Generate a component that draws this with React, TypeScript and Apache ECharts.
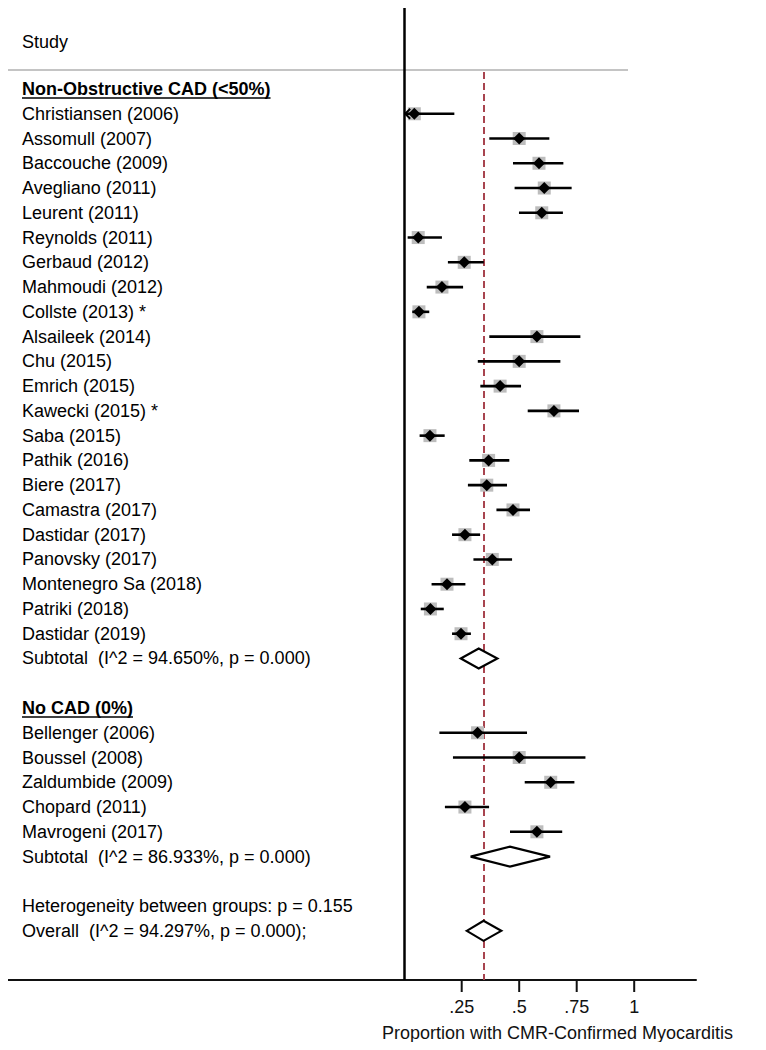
import React, { useEffect, useRef } from "react";
import * as echarts from "echarts";

// ---------- data ----------
const GROUP1_TITLE = "Non-Obstructive CAD (<50%)";
const GROUP1_STUDIES = [
  "Christiansen (2006)", "Assomull (2007)", "Baccouche (2009)", "Avegliano (2011)",
  "Leurent (2011)", "Reynolds (2011)", "Gerbaud (2012)", "Mahmoudi (2012)",
  "Collste (2013) *", "Alsaileek (2014)", "Chu (2015)", "Emrich (2015)",
  "Kawecki (2015) *", "Saba (2015)", "Pathik (2016)", "Biere (2017)",
  "Camastra (2017)", "Dastidar (2017)", "Panovsky (2017)", "Montenegro Sa (2018)",
  "Patriki (2018)", "Dastidar (2019)",
];
const GROUP1_EST = [0.044, 0.5, 0.586, 0.609, 0.598, 0.061, 0.261, 0.164, 0.064, 0.577, 0.5, 0.417, 0.651, 0.112, 0.367, 0.359, 0.473, 0.264, 0.383, 0.186, 0.114, 0.247];
const GROUP1_LO = [-0.02, 0.37, 0.473, 0.48, 0.499, 0.015, 0.19, 0.098, 0.035, 0.37, 0.32, 0.331, 0.537, 0.067, 0.283, 0.277, 0.401, 0.208, 0.301, 0.119, 0.072, 0.208];
const GROUP1_HI = [0.218, 0.631, 0.692, 0.728, 0.69, 0.164, 0.346, 0.256, 0.109, 0.766, 0.679, 0.508, 0.76, 0.176, 0.457, 0.447, 0.547, 0.33, 0.469, 0.266, 0.172, 0.29];
const GROUP1_SUBTOTAL = [0.324, 0.246, 0.405]; // est, lo, hi
const GROUP1_SUBTOTAL_LABEL = "Subtotal  (I^2 = 94.650%, p = 0.000)";

const GROUP2_TITLE = "No CAD (0%)";
const GROUP2_STUDIES = ["Bellenger (2006)", "Boussel (2008)", "Zaldumbide (2009)", "Chopard (2011)", "Mavrogeni (2017)"];
const GROUP2_EST = [0.319, 0.5, 0.637, 0.264, 0.577];
const GROUP2_LO = [0.153, 0.212, 0.524, 0.177, 0.46];
const GROUP2_HI = [0.534, 0.788, 0.74, 0.369, 0.687];
const GROUP2_SUBTOTAL = [0.46, 0.289, 0.634];
const GROUP2_SUBTOTAL_LABEL = "Subtotal  (I^2 = 86.933%, p = 0.000)";

const HETEROGENEITY_LABEL = "Heterogeneity between groups: p = 0.155";
const OVERALL = [0.345, 0.272, 0.422];
const OVERALL_LABEL = "Overall  (I^2 = 94.297%, p = 0.000);";

const COLUMN_TITLE = "Study";
const TICK_VALUES = [0.25, 0.5, 0.75, 1];
const TICK_LABELS = [".25", ".5", ".75", "1"];
const X_TITLE = "Proportion with CMR-Confirmed Myocarditis";

// ---------- layout ----------
const W = 750;
const H = 1034;
const GRID_W = 688;
const GRID_H = 972;
const X_ZERO_PX = 396.2;
const PX_PER_UNIT = 230;
const X_MIN = -X_ZERO_PX / PX_PER_UNIT;
const X_MAX = (GRID_W - X_ZERO_PX) / PX_PER_UNIT;
const Y_MIN = -3.271;
const Y_MAX = 35.985;
const HEADER_ROW = -1.9;
const HEADER_LINE_ROW = -0.767;
const FONT = '"Liberation Sans", Arial, Helvetica, sans-serif';
const FS = 18;

type Row = { k: number; text: string; bold?: boolean };

function buildRows() {
  const labels: Row[] = [];
  const studies: number[][] = [];
  const diamonds: number[][] = [];
  let k = 0;
  labels.push({ k: HEADER_ROW, text: COLUMN_TITLE });
  labels.push({ k, text: GROUP1_TITLE, bold: true });
  k++;
  GROUP1_STUDIES.forEach((s, i) => {
    labels.push({ k, text: s });
    studies.push([GROUP1_EST[i], GROUP1_LO[i], GROUP1_HI[i], k]);
    k++;
  });
  labels.push({ k, text: GROUP1_SUBTOTAL_LABEL });
  diamonds.push([GROUP1_SUBTOTAL[0], GROUP1_SUBTOTAL[1], GROUP1_SUBTOTAL[2], k]);
  k += 2;
  labels.push({ k, text: GROUP2_TITLE, bold: true });
  k++;
  GROUP2_STUDIES.forEach((s, i) => {
    labels.push({ k, text: s });
    studies.push([GROUP2_EST[i], GROUP2_LO[i], GROUP2_HI[i], k]);
    k++;
  });
  labels.push({ k, text: GROUP2_SUBTOTAL_LABEL });
  diamonds.push([GROUP2_SUBTOTAL[0], GROUP2_SUBTOTAL[1], GROUP2_SUBTOTAL[2], k]);
  k += 2;
  labels.push({ k, text: HETEROGENEITY_LABEL });
  k++;
  labels.push({ k, text: OVERALL_LABEL });
  diamonds.push([OVERALL[0], OVERALL[1], OVERALL[2], k]);
  return { labels, studies, diamonds };
}

function measure(text: string, bold: boolean) {
  const c = document.createElement("canvas").getContext("2d");
  if (!c) return text.length * FS * 0.55;
  c.font = `${bold ? "bold " : ""}${FS}px ${FONT}`;
  return c.measureText(text).width;
}

export default function App() {
  const ref = useRef<HTMLDivElement>(null);
  useEffect(() => {
    if (!ref.current) return;
    const chart = echarts.init(ref.current, null, { renderer: "svg" });
    const { labels, studies, diamonds } = buildRows();

    const option: any = {
      animation: false,
      backgroundColor: "#ffffff",
      grid: { left: 0, top: 0, width: GRID_W, height: GRID_H },
      xAxis: {
        type: "value",
        min: X_MIN,
        max: X_MAX,
        axisLine: { show: true, onZero: false, lineStyle: { color: "#111", width: 2 } },
        axisTick: { show: false },
        axisLabel: { show: false },
        splitLine: { show: false },
      },
      yAxis: {
        type: "value",
        min: Y_MIN,
        max: Y_MAX,
        inverse: true,
        show: false,
        splitLine: { show: false },
      },
      graphic: [
        {
          type: "line",
          shape: { x1: 0, y1: 62, x2: 620, y2: 62 },
          style: { stroke: "#c4c4c4", lineWidth: 2 },
          z: 1,
        },
        {
          type: "text",
          x: 549.5,
          y: 1025,
          style: { text: X_TITLE, font: `${FS}px ${FONT}`, fill: "#111", align: "center", verticalAlign: "middle" },
        },
      ],
      series: [
        {
          type: "lines",
          coordinateSystem: "cartesian2d",
          z: 2,
          lineStyle: { color: "#000", width: 2.5, opacity: 1 },
          data: [{ coords: [[0, Y_MIN], [0, Y_MAX]] }],
          silent: true,
        },
        {
          type: "lines",
          coordinateSystem: "cartesian2d",
          z: 2,
          lineStyle: { color: "#a8444f", width: 2, type: [7, 4], opacity: 1 },
          data: [{ coords: [[OVERALL[0], HEADER_LINE_ROW + 0.08], [OVERALL[0], Y_MAX]] }],
          silent: true,
        },
        {
          type: "custom",
          z: 5,
          data: studies,
          encode: { x: [0, 1, 2], y: 3 },
          renderItem: (params: any, api: any) => {
            const est = api.value(0);
            const lo = api.value(1);
            const hi = api.value(2);
            const k = api.value(3);
            const c = api.coord([est, k]);
            const l = api.coord([Math.max(lo, 0), k]);
            const h = api.coord([hi, k]);
            const children: any[] = [
              { type: "rect", shape: { x: c[0] - 6.5, y: c[1] - 6.5, width: 13, height: 13 }, style: { fill: "#bdbdbd" } },
              { type: "line", shape: { x1: l[0], y1: l[1], x2: h[0], y2: h[1] }, style: { stroke: "#000", lineWidth: 2.6 } },
              {
                type: "polygon",
                shape: { points: [[c[0] - 6, c[1]], [c[0], c[1] - 6], [c[0] + 6, c[1]], [c[0], c[1] + 6]] },
                style: { fill: "#000" },
              },
            ];
            if (lo < 0) {
              children.push({
                type: "polyline",
                shape: { points: [[l[0] + 6, l[1] - 5], [l[0] + 1, l[1]], [l[0] + 6, l[1] + 5]] },
                style: { stroke: "#000", lineWidth: 2, fill: "none" },
              });
            }
            return { type: "group", children };
          },
        },
        {
          type: "custom",
          z: 5,
          data: diamonds,
          encode: { x: [0, 1, 2], y: 3 },
          renderItem: (params: any, api: any) => {
            const est = api.value(0);
            const lo = api.value(1);
            const hi = api.value(2);
            const k = api.value(3);
            const c = api.coord([est, k]);
            const l = api.coord([lo, k]);
            const h = api.coord([hi, k]);
            return {
              type: "polygon",
              shape: { points: [[l[0], l[1]], [c[0], c[1] - 10], [h[0], h[1]], [c[0], c[1] + 10]] },
              style: { fill: "#fff", stroke: "#000", lineWidth: 2.2, lineJoin: "miter" },
            };
          },
        },
        {
          type: "custom",
          z: 6,
          data: labels.map((r) => [X_MIN, r.k]),
          encode: { x: 0, y: 1 },
          renderItem: (params: any, api: any) => {
            const r = labels[params.dataIndex];
            const p = api.coord([X_MIN, r.k]);
            const x = p[0] + 14;
            const children: any[] = [
              {
                type: "text",
                x,
                y: p[1],
                style: {
                  text: r.text,
                  font: `${r.bold ? "bold " : ""}${FS}px ${FONT}`,
                  fill: "#000",
                  align: "left",
                  verticalAlign: "middle",
                },
              },
            ];
            if (r.bold) {
              const w = measure(r.text, true);
              children.push({
                type: "line",
                shape: { x1: x, y1: p[1] + 9, x2: x + w, y2: p[1] + 9 },
                style: { stroke: "#000", lineWidth: 1.5 },
              });
            }
            return { type: "group", children };
          },
        },
        {
          type: "custom",
          z: 6,
          data: TICK_VALUES.map((v) => [v, Y_MAX]),
          encode: { x: 0, y: 1 },
          renderItem: (params: any, api: any) => {
            const p = api.coord([api.value(0), Y_MAX]);
            return {
              type: "group",
              children: [
                { type: "line", shape: { x1: p[0], y1: p[1], x2: p[0], y2: p[1] + 12 }, style: { stroke: "#111", lineWidth: 2 } },
                {
                  type: "text",
                  x: p[0],
                  y: p[1] + 27,
                  style: {
                    text: TICK_LABELS[params.dataIndex],
                    font: `${FS}px ${FONT}`,
                    fill: "#111",
                    align: "center",
                    verticalAlign: "middle",
                  },
                },
              ],
            };
          },
        },
      ],
    };
    chart.setOption(option);
    return () => chart.dispose();
  }, []);
  return <div ref={ref} style={{ width: W, height: H }} />;
}
